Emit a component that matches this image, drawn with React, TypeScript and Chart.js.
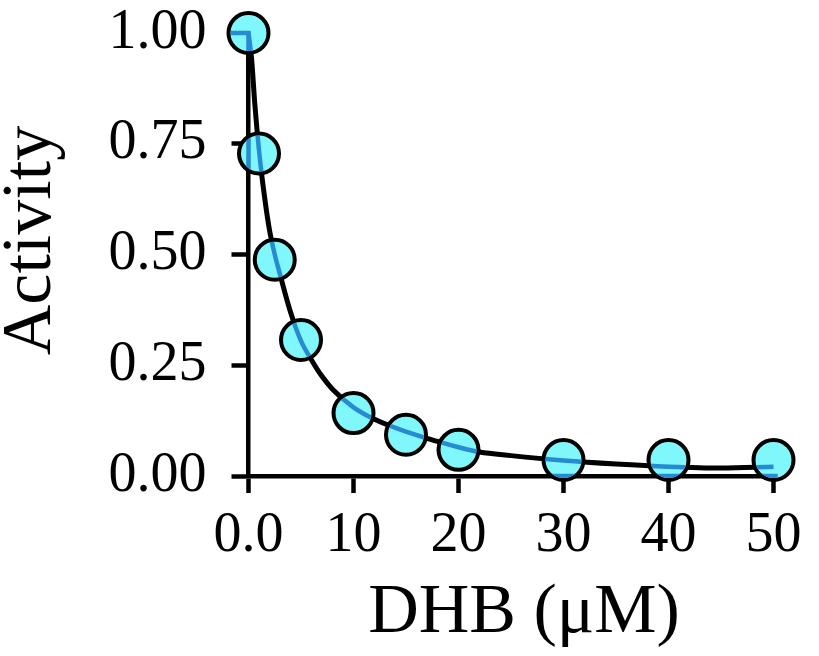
import React, { useEffect, useRef } from "react";
import { Chart, registerables } from "chart.js";

Chart.register(...registerables);

// Measured data points
const doseX = [0, 1, 2.5, 5, 10, 15, 20, 30, 40, 50];
const activityY = [1.0, 0.728, 0.488, 0.307, 0.142, 0.093, 0.059, 0.036, 0.036, 0.036];

// Fitted curve
const fitX = [0, 0.3, 0.6, 1, 1.5, 2, 2.5, 3, 4, 5, 6, 7, 8, 10, 12, 15, 18, 20, 22, 25, 30, 35, 40, 45, 50];
const fitY = [1.0, 0.94, 0.84, 0.735, 0.635, 0.555, 0.5, 0.455, 0.37, 0.305, 0.262, 0.225, 0.196, 0.155, 0.128, 0.1, 0.078, 0.065, 0.054, 0.046, 0.035, 0.027, 0.021, 0.018, 0.021];

// Blue outline edges (x = 0 edge and y = 0 edge)
const outlineX = [-3, 0, 0, 50.4];
const outlineY = [1.0, 1.0, 0, 0];

const xTickLabels = ["0.0", "10", "20", "30", "40", "50"];
const yTickValues = [0, 0.25, 0.5, 0.75, 1.0];
const xTitle = "DHB (μM)";
const yTitle = "Activity";

const POINT_R = 20;
const POINT_BW = 4;
const SCATTER_INDEX = 2;

const circleClip = {
  id: "circleClip",
  beforeDatasetDraw(chart: any, args: any) {
    const ds: any = chart.data.datasets[args.index];
    if (!ds.clipToPoints) return;
    const meta = chart.getDatasetMeta(SCATTER_INDEX);
    const ctx = chart.ctx;
    ctx.save();
    ctx.beginPath();
    const r = POINT_R - POINT_BW / 2;
    meta.data.forEach((pt: any) => {
      ctx.moveTo(pt.x + r, pt.y);
      ctx.arc(pt.x, pt.y, r, 0, Math.PI * 2);
    });
    ctx.clip();
  },
  afterDatasetDraw(chart: any, args: any) {
    const ds: any = chart.data.datasets[args.index];
    if (!ds.clipToPoints) return;
    chart.ctx.restore();
  },
};

const axisTitles = {
  id: "axisTitles",
  afterDraw(chart: any) {
    const { ctx, chartArea, height } = chart;
    ctx.save();
    ctx.fillStyle = "#000";
    ctx.font = '70px "Liberation Serif"';
    ctx.textAlign = "center";
    ctx.textBaseline = "middle";
    ctx.fillText(xTitle, (chartArea.left + chartArea.right) / 2 + 13, height - 42);
    ctx.translate(32, (chartArea.top + chartArea.bottom) / 2 - 14);
    ctx.rotate(-Math.PI / 2);
    ctx.fillText(yTitle, 0, 0);
    ctx.restore();
  },
};

export default function App() {
  const ref = useRef<HTMLCanvasElement>(null);

  useEffect(() => {
    const fitData = fitX.map((x, i) => ({ x, y: fitY[i] }));
    const pts = doseX.map((x, i) => ({ x, y: activityY[i] }));
    const outline = outlineX.map((x, i) => ({ x, y: outlineY[i] }));
    const tickFont = { family: "Liberation Serif", size: 56 };
    const chart = new Chart(ref.current as HTMLCanvasElement, {
      type: "scatter",
      data: {
        datasets: [
          {
            label: "fit-blue",
            data: fitData,
            showLine: true,
            borderColor: "#268BD2",
            borderWidth: 4.5,
            pointRadius: 0,
            cubicInterpolationMode: "monotone",
            clip: false,
            order: 0,
            clipToPoints: true,
          } as any,
          {
            label: "outline-blue",
            data: outline,
            showLine: true,
            borderColor: "#268BD2",
            borderWidth: 4.5,
            pointRadius: 0,
            tension: 0,
            clip: false,
            order: 1,
            clipToPoints: true,
          } as any,
          {
            label: "Activity",
            data: pts,
            showLine: false,
            backgroundColor: "#80F7FB",
            borderColor: "#000000",
            borderWidth: POINT_BW,
            pointRadius: POINT_R,
            clip: false,
            order: 2,
          } as any,
          {
            label: "fit",
            data: fitData,
            showLine: true,
            borderColor: "#000000",
            borderWidth: 5,
            pointRadius: 0,
            cubicInterpolationMode: "monotone",
            clip: false,
            order: 3,
          } as any,
        ],
      },
      options: {
        responsive: false,
        animation: false,
        devicePixelRatio: 1,
        layout: { padding: { top: 33, right: 45.5, left: 0, bottom: 0 } },
        plugins: { legend: { display: false }, tooltip: { enabled: false } },
        scales: {
          x: {
            type: "linear",
            min: 0,
            max: 50,
            afterFit: (s: any) => {
              s.height = 180;
              s.paddingTop = 0;
              s.paddingBottom = 0;
            },
            border: { display: true, color: "#000", width: 4.5 },
            grid: {
              display: true,
              drawOnChartArea: false,
              drawTicks: true,
              tickLength: 17,
              tickWidth: 4.5,
              tickColor: "#000",
            },
            afterBuildTicks: (s: any) => {
              s.ticks = xTickLabels.map((_, i) => ({ value: i * 10 }));
            },
            ticks: {
              color: "#000",
              font: tickFont,
              padding: 10,
              maxRotation: 0,
              autoSkip: false,
              callback: (_v: any, i: number) => xTickLabels[i],
            },
            title: { display: false, text: xTitle },
          },
          y: {
            type: "linear",
            min: 0,
            max: 1,
            afterFit: (s: any) => {
              s.width = 248.5;
              s.paddingTop = 0;
              s.paddingBottom = 0;
            },
            afterBuildTicks: (s: any) => {
              s.ticks = yTickValues.map((v) => ({ value: v }));
            },
            border: { display: true, color: "#000", width: 4.5 },
            grid: {
              display: true,
              drawOnChartArea: false,
              drawTicks: true,
              tickLength: 17,
              tickWidth: 4.5,
              tickColor: "#000",
            },
            ticks: {
              color: "#000",
              font: tickFont,
              padding: 25,
              autoSkip: false,
              callback: (v: any) => Number(v).toFixed(2),
            },
            title: { display: false, text: yTitle },
          },
        },
      },
      plugins: [circleClip, axisTitles],
    });
    return () => chart.destroy();
  }, []);

  return (
    <div style={{ position: "absolute", left: 0, top: 0, width: 819, height: 656, background: "#fff" }}>
      <canvas ref={ref} width={819} height={656} />
    </div>
  );
}
